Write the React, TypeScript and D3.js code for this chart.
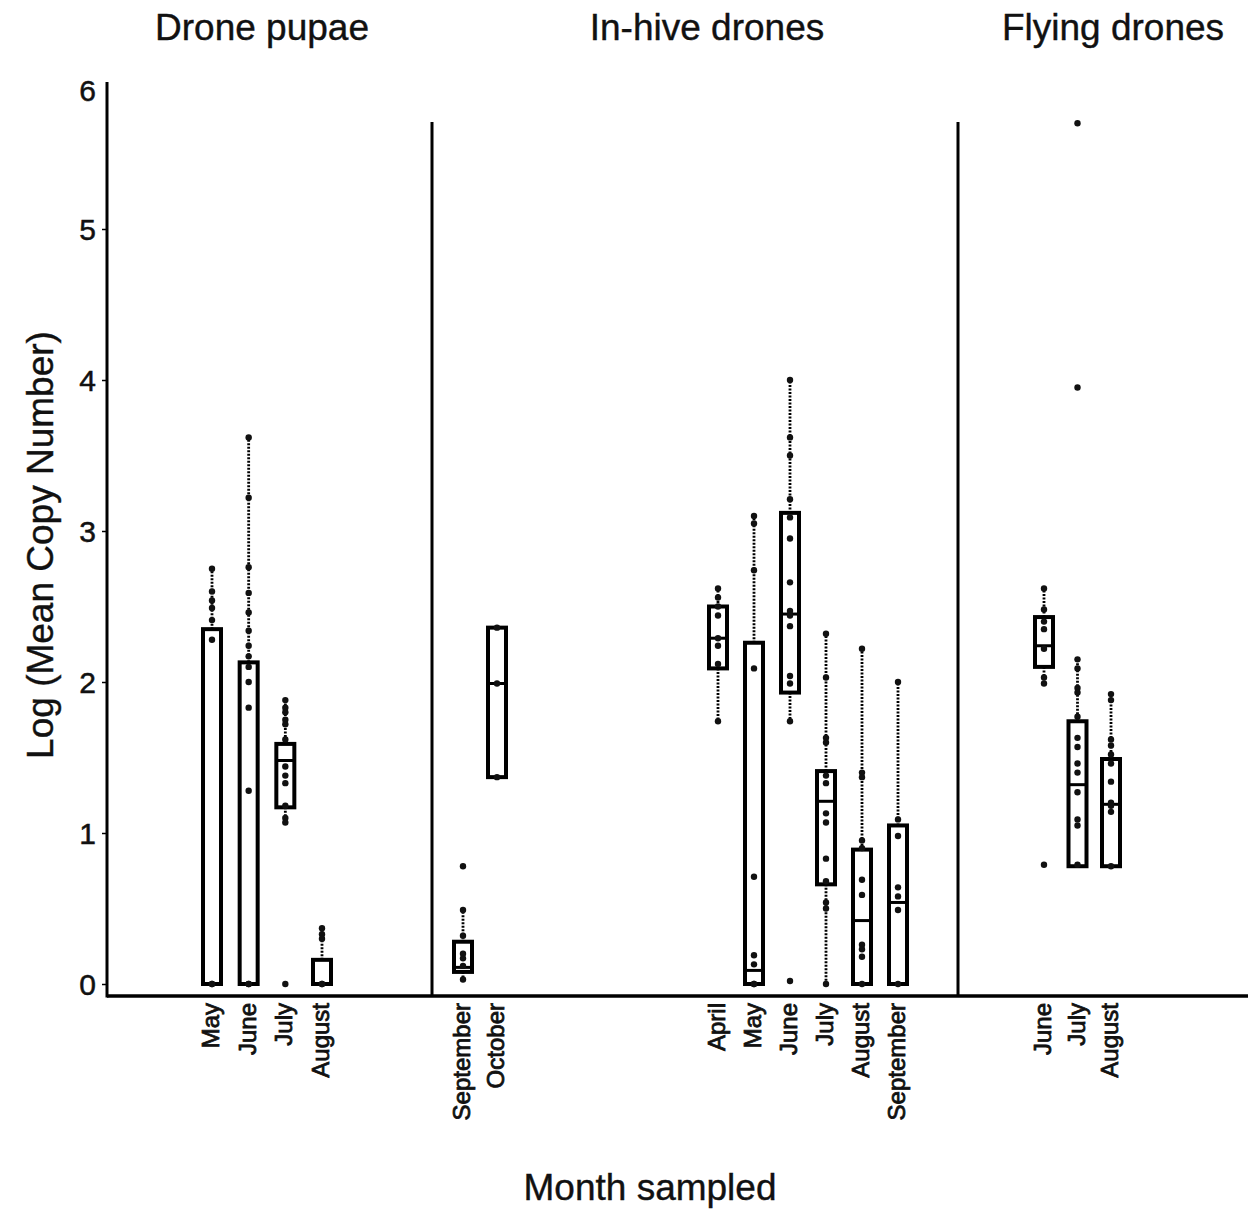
import React, { useEffect, useRef } from "react";
import * as d3 from "d3";

// panel titles
const panelTitles = ["Drone pupae", "In-hive drones", "Flying drones"];

// Drone pupae
const pupaeMonths = ["May", "June", "July", "August"];
const pupaeQ1 = [0, 0, 1.17, 0];
const pupaeMed = [0, 0, 1.48, 0];
const pupaeQ3 = [2.35, 2.13, 1.59, 0.16];
const pupaeLo = [0, 0, 1.07, 0];
const pupaeHi = [2.75, 3.62, 1.88, 0.37];
const pupaePoints = [
  [2.75, 2.6, 2.54, 2.49, 2.41, 2.28, 0, 0],
  [3.62, 3.22, 2.76, 2.59, 2.46, 2.34, 2.24, 2.17, 2.1, 2.0, 1.83, 1.28, 0, 0],
  [1.88, 1.83, 1.8, 1.75, 1.72, 1.62, 1.44, 1.38, 1.33, 1.18, 1.1, 1.07, 0],
  [0.37, 0.33, 0.3, 0, 0],
];

// In-hive drones, first season
const hive1Months = ["September", "October"];
const hive1Q1 = [0.08, 1.37];
const hive1Med = [0.11, 1.99];
const hive1Q3 = [0.28, 2.36];
const hive1Lo = [0.03, 1.37];
const hive1Hi = [0.49, 2.36];
const hive1Points = [
  [0.78, 0.49, 0.32, 0.2, 0.17, 0.12, 0.03],
  [2.36, 1.99, 1.37],
];

// In-hive drones, second season
const hive2Months = ["April", "May", "June", "July", "August", "September"];
const hive2Q1 = [2.09, 0, 1.93, 0.66, 0, 0];
const hive2Med = [2.29, 0.09, 2.45, 1.21, 0.42, 0.54];
const hive2Q3 = [2.5, 2.26, 3.12, 1.41, 0.89, 1.05];
const hive2Lo = [1.74, 0, 1.74, 0, 0, 0];
const hive2Hi = [2.62, 3.1, 4.0, 2.32, 2.22, 2.0];
const hive2Points = [
  [2.62, 2.56, 2.5, 2.44, 2.29, 2.24, 2.12, 1.74],
  [3.1, 3.05, 2.74, 2.09, 0.71, 0.19, 0.13, 0, 0],
  [4.0, 3.62, 3.5, 3.21, 3.09, 2.95, 2.66, 2.47, 2.44, 2.37, 2.04, 1.99, 1.74, 0.02],
  [2.32, 2.03, 1.63, 1.6, 1.38, 1.33, 1.13, 1.07, 0.83, 0.68, 0.54, 0.5, 0],
  [2.22, 1.4, 1.37, 0.95, 0.9, 0.69, 0.59, 0.26, 0.23, 0.18, 0],
  [2.0, 1.09, 0.98, 0.64, 0.58, 0.49, 0],
];

// Flying drones
const flyMonths = ["June", "July", "August"];
const flyQ1 = [2.1, 0.78, 0.78];
const flyMed = [2.24, 1.32, 1.19];
const flyQ3 = [2.43, 1.74, 1.49];
const flyLo = [1.99, 0.78, 0.78];
const flyHi = [2.62, 2.16, 1.92];
const flyPoints = [
  [2.62, 2.48, 2.4, 2.35, 2.22, 2.03, 1.99, 0.79],
  [5.7, 3.95, 2.15, 2.09, 1.96, 1.93, 1.77, 1.63, 1.57, 1.46, 1.4, 1.27, 1.09, 1.05, 0.79],
  [1.92, 1.88, 1.62, 1.58, 1.52, 1.46, 1.34, 1.2, 1.18, 1.14, 0.78],
];

const yTicks = [0, 1, 2, 3, 4, 5, 6];

const FONT = "Arial, 'Liberation Sans', sans-serif";

export default function App() {
  const ref = useRef<SVGSVGElement>(null);

  useEffect(() => {
    const svg = d3.select(ref.current);
    svg.selectAll("*").remove();

    const width = 1248,
      height = 1209;
    const axisX = 107,
      axisY = 996;

    const y = d3.scaleLinear().domain([0, 5]).range([984, 229]);

    const groups = [
      { months: pupaeMonths, q1: pupaeQ1, med: pupaeMed, q3: pupaeQ3, lo: pupaeLo, hi: pupaeHi, pts: pupaePoints, range: [212, 322] },
      { months: hive1Months, q1: hive1Q1, med: hive1Med, q3: hive1Q3, lo: hive1Lo, hi: hive1Hi, pts: hive1Points, range: [463, 497] },
      { months: hive2Months, q1: hive2Q1, med: hive2Med, q3: hive2Q3, lo: hive2Lo, hi: hive2Hi, pts: hive2Points, range: [718, 898] },
      { months: flyMonths, q1: flyQ1, med: flyMed, q3: flyQ3, lo: flyLo, hi: flyHi, pts: flyPoints, range: [1044, 1111] },
    ];

    const boxW = 18;

    // y axis
    const yAxis = svg
      .append("g")
      .attr("transform", `translate(${axisX},0)`)
      .call(d3.axisLeft(y).tickValues(yTicks).tickSize(5).tickSizeOuter(0).tickFormat(d3.format("d")));
    yAxis.select(".domain").remove();
    yAxis.selectAll(".tick line").attr("stroke", "#000").attr("stroke-width", 1.5);
    yAxis.selectAll(".tick").filter((d) => d === 6).select("line").remove();
    yAxis
      .selectAll(".tick text")
      .attr("font-family", FONT)
      .attr("font-size", 30)
      .attr("fill", "#111")
      .attr("stroke", "#111")
      .attr("stroke-width", 0.5)
      .attr("x", -11)
      .attr("dy", (d) => (d === 6 ? "0.75em" : "0.34em"));

    svg.append("line")
      .attr("x1", axisX).attr("x2", axisX)
      .attr("y1", 82).attr("y2", axisY + 1.5)
      .attr("stroke", "#000").attr("stroke-width", 3);
    svg.append("line")
      .attr("x1", axisX).attr("x2", width)
      .attr("y1", axisY).attr("y2", axisY)
      .attr("stroke", "#000").attr("stroke-width", 3.5);

    // panel separators
    [432, 958].forEach((sx) => {
      svg.append("line")
        .attr("x1", sx).attr("x2", sx)
        .attr("y1", 122).attr("y2", axisY)
        .attr("stroke", "#000").attr("stroke-width", 3);
    });

    // panel titles
    const titleX = [262, 707, 1113];
    svg.selectAll("text.ptitle")
      .data(panelTitles)
      .join("text")
      .attr("class", "ptitle")
      .attr("x", (d, i) => titleX[i])
      .attr("y", 40)
      .attr("text-anchor", "middle")
      .attr("font-family", FONT)
      .attr("font-size", 37)
      .attr("fill", "#111")
      .attr("stroke", "#111")
      .attr("stroke-width", 0.4)
      .text((d) => d);

    groups.forEach((gr) => {
      const x = d3.scalePoint<string>().domain(gr.months).range(gr.range as [number, number]);
      const g = svg.append("g");
      const idx = gr.months.map((_, i) => i);

      // whiskers
      g.selectAll("line.wu")
        .data(idx)
        .join("line")
        .attr("class", "wu")
        .attr("x1", (i) => x(gr.months[i])!)
        .attr("x2", (i) => x(gr.months[i])!)
        .attr("y1", (i) => y(gr.q3[i]))
        .attr("y2", (i) => y(gr.hi[i]))
        .attr("stroke", "#000")
        .attr("stroke-width", 2.8)
        .attr("stroke-dasharray", "2,1.5");
      g.selectAll("line.wl")
        .data(idx)
        .join("line")
        .attr("class", "wl")
        .attr("x1", (i) => x(gr.months[i])!)
        .attr("x2", (i) => x(gr.months[i])!)
        .attr("y1", (i) => y(gr.q1[i]))
        .attr("y2", (i) => y(gr.lo[i]))
        .attr("stroke", "#000")
        .attr("stroke-width", 2.8)
        .attr("stroke-dasharray", "2,1.5");

      // boxes
      g.selectAll("rect")
        .data(idx)
        .join("rect")
        .attr("x", (i) => x(gr.months[i])! - boxW / 2)
        .attr("y", (i) => y(gr.q3[i]))
        .attr("width", boxW)
        .attr("height", (i) => Math.max(0, y(gr.q1[i]) - y(gr.q3[i])))
        .attr("fill", "#fff")
        .attr("stroke", "#000")
        .attr("stroke-width", 4);

      // medians
      g.selectAll("line.med")
        .data(idx)
        .join("line")
        .attr("class", "med")
        .attr("x1", (i) => x(gr.months[i])! - boxW / 2)
        .attr("x2", (i) => x(gr.months[i])! + boxW / 2)
        .attr("y1", (i) => y(gr.med[i]))
        .attr("y2", (i) => y(gr.med[i]))
        .attr("stroke", "#000")
        .attr("stroke-width", 3);

      // points
      const flat = gr.pts.flatMap((arr, i) => arr.map((v) => ({ m: gr.months[i], v })));
      g.selectAll("circle")
        .data(flat)
        .join("circle")
        .attr("cx", (d) => x(d.m)!)
        .attr("cy", (d) => y(d.v))
        .attr("r", 3.2)
        .attr("fill", "#111");

      // month labels
      g.selectAll("text")
        .data(gr.months)
        .join("text")
        .attr("transform", (d) => `translate(${x(d)! + 7},1003) rotate(-90)`)
        .attr("text-anchor", "end")
        .attr("font-family", FONT)
        .attr("font-size", 24)
        .attr("fill", "#111")
        .attr("stroke", "#111")
        .attr("stroke-width", 0.8)
        .text((d) => d);
    });

    // axis titles
    svg.append("text")
      .attr("transform", "translate(53,545) rotate(-90)")
      .attr("text-anchor", "middle")
      .attr("font-family", FONT)
      .attr("font-size", 37)
      .attr("fill", "#111")
      .attr("stroke", "#111")
      .attr("stroke-width", 0.4)
      .text("Log (Mean Copy Number)");

    svg.append("text")
      .attr("x", 650)
      .attr("y", 1200)
      .attr("text-anchor", "middle")
      .attr("font-family", FONT)
      .attr("font-size", 37)
      .attr("fill", "#111")
      .attr("stroke", "#111")
      .attr("stroke-width", 0.4)
      .text("Month sampled");

    svg.attr("width", width).attr("height", height);
  }, []);

  return (
    <svg
      ref={ref}
      width={1248}
      height={1209}
      style={{ position: "absolute", left: 0, top: 0, background: "#fff" }}
    />
  );
}
